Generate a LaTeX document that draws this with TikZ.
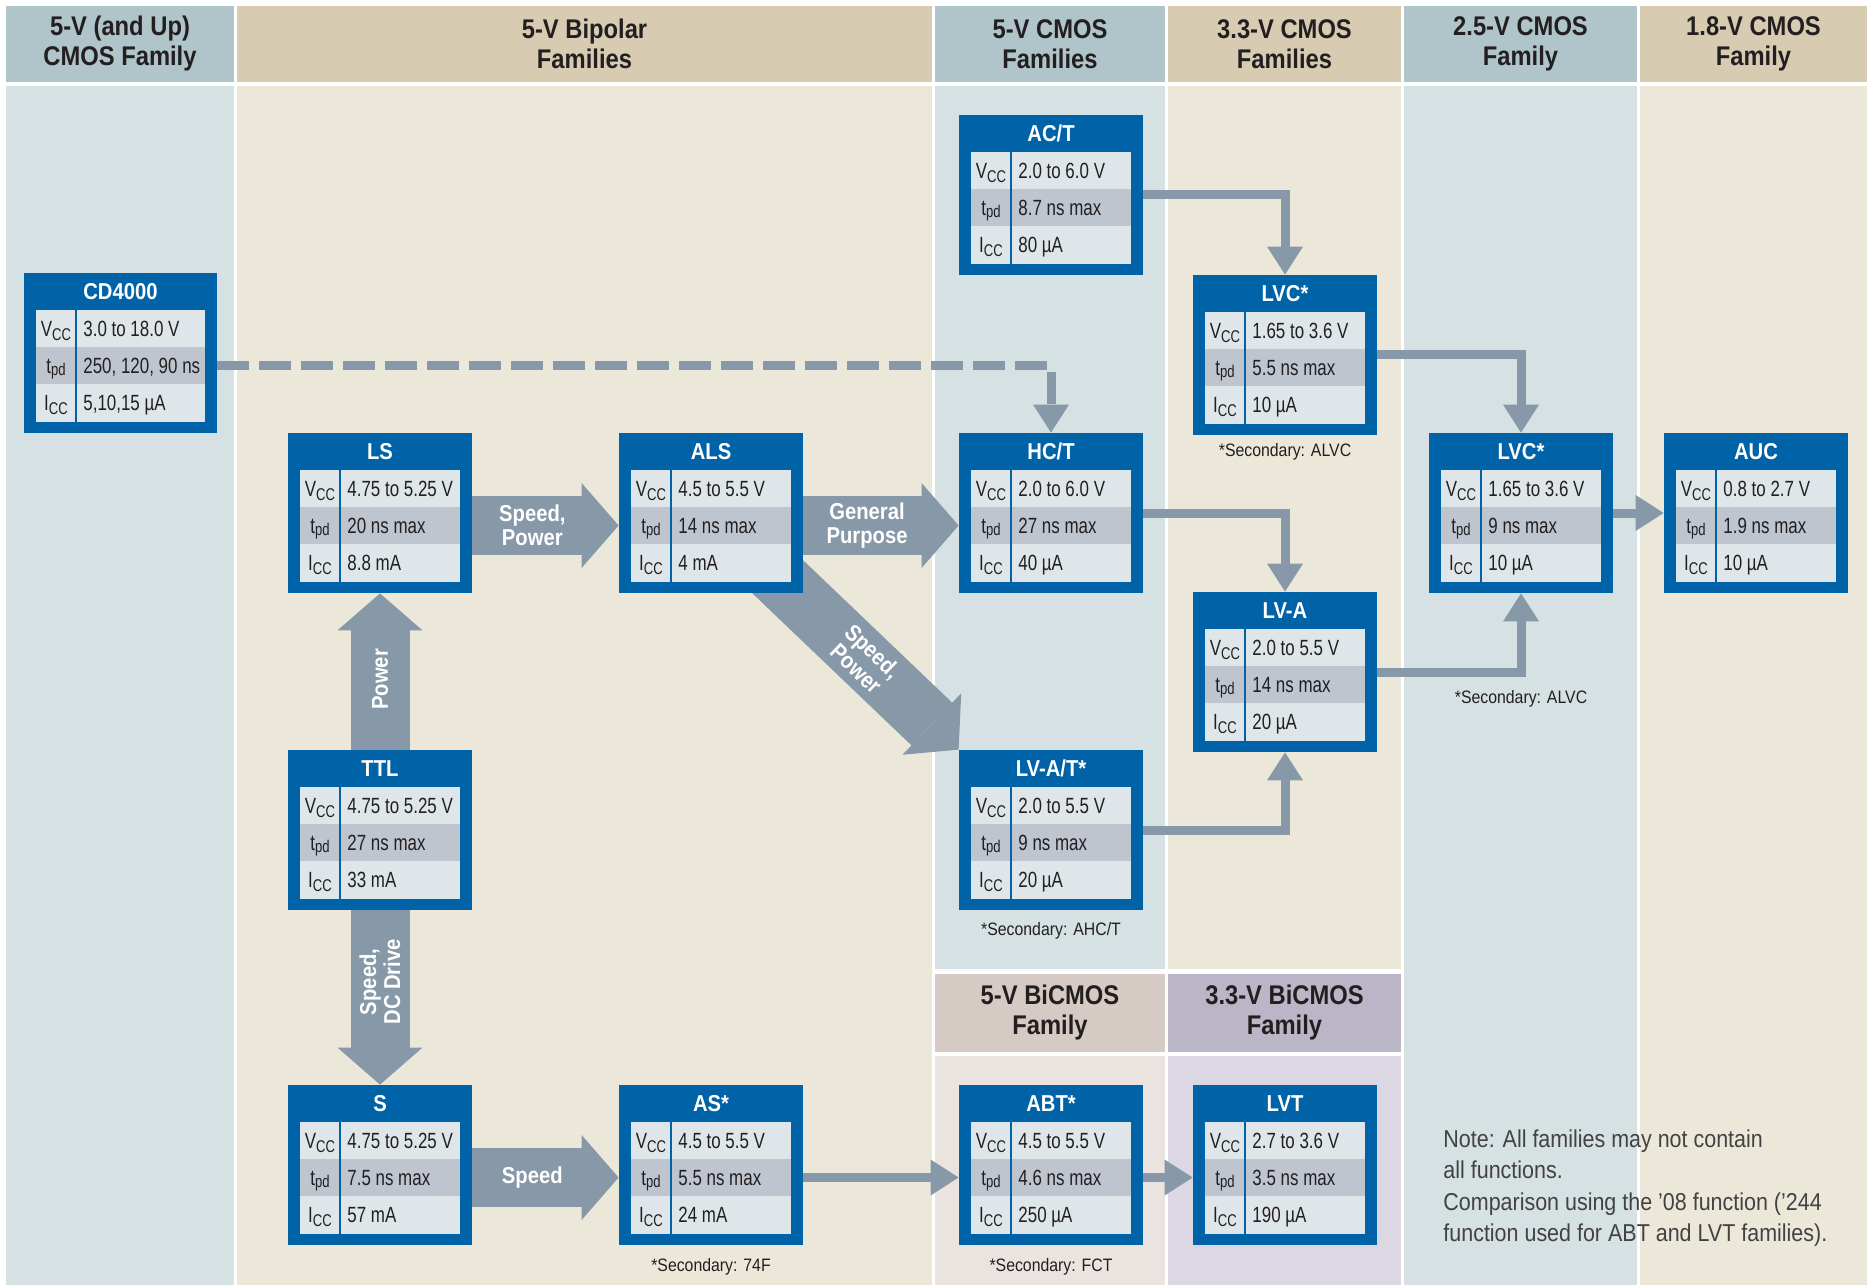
\documentclass[tikz,border=0pt]{standalone}
\usepackage{fontspec}
\setmainfont{Liberation Sans}[FakeStretch=0.88]
\newfontfamily\narrowfont{Liberation Sans}[FakeStretch=0.77]
\usetikzlibrary{arrows.meta,positioning,backgrounds}

\definecolor{hdblue}{HTML}{AFC5C9}
\definecolor{bdblue}{HTML}{D5E1E2}
\definecolor{hdtan}{HTML}{D7CCB1}
\definecolor{bdtan}{HTML}{ECE8D9}
\definecolor{hdrose}{HTML}{D6CAC5}
\definecolor{bdrose}{HTML}{EBE3DF}
\definecolor{hdlilac}{HTML}{BAB6C7}
\definecolor{bdlilac}{HTML}{DBD8E3}
\definecolor{famblue}{HTML}{0063A7}
\definecolor{rowlite}{HTML}{DFE6EA}
\definecolor{rowdark}{HTML}{BFC5CF}
\definecolor{arrowgray}{HTML}{8798A9}
\definecolor{inktext}{HTML}{231F20}

\newcommand\lowtxt[2][2pt]{\raisebox{-#1}{\fontsize{8.5}{8.5}\selectfont #2}}

% one family: [width]{name}{left}{top}{title}{Vcc}{tpd}{Icc}
\newcommand\famBox[8][184]{%
  \begin{scope}[shift={(#3,#4)}]
    \node[fambox, minimum width=#1*.5pt] (#2) at (#1/2,80) {};
    \fill[rowlite] (12,37) rectangle (#1-12,74);
    \fill[rowdark] (12,74) rectangle (#1-12,111);
    \fill[rowlite] (12,111) rectangle (#1-12,149);
    \draw[famblue, line width=.8pt] (52,37) -- (52,149);
    \node[boxtitle] (#2-n) at (#1/2,18.5) {#5};
    \node[rowlbl] (#2-vl) at (32,55.5) {V\lowtxt{CC}};
    \node[rowlbl] (#2-tl) at (32,92.5) {t\lowtxt[1pt]{pd}};
    \node[rowlbl] (#2-il) at (32,130) {I\lowtxt{CC}};
    \node[rowval] (#2-v) at (59,55.5) {#6};
    \node[rowval] (#2-t) at (59,92.5) {#7};
    \node[rowval] (#2-i) at (59,130) {#8};
  \end{scope}}

\begin{document}
\begin{tikzpicture}[x=0.5pt, y=-0.5pt,
  fambox/.style={fill=famblue, minimum height=80pt, inner sep=0pt},
  boxtitle/.style={text=white, font=\bfseries\fontsize{11.5}{12}\selectfont, inner sep=0pt},
  rowlbl/.style={text=inktext, font=\narrowfont\fontsize{11}{12}\selectfont, inner sep=0pt, text height=7.8pt, text depth=0pt},
  rowval/.style={rowlbl, anchor=west},
  hdr/.style={text=inktext, font=\bfseries\fontsize{13.5}{15}\selectfont, align=center, minimum height=38pt, inner sep=0pt},
  secnote/.style={text=inktext, font=\fontsize{9}{10}\selectfont, inner sep=0pt},
  notetxt/.style={text=inktext!85, font=\fontsize{12.2}{15.75}\selectfont, align=left, inner sep=0pt, anchor=north west},
  conn/.style={draw=arrowgray, line width=4.5pt, -{Triangle[width=18pt,length=14pt,line width=0pt]}},
  bigarrow/.style={draw=arrowgray, line width=29.5pt, -{Triangle[width=42.5pt,length=18.5pt,line width=0pt]}},
  arrowlbl/.style={text=white, font=\bfseries\fontsize{11.5}{12}\selectfont, align=center, inner sep=0pt}]
  \useasboundingbox (0,0) rectangle (1871,1288);

  \begin{pgfonlayer}{background}
    \fill[white] (0,0) rectangle (1871,1288);
    \foreach \cx/\cw/\cb/\hc/\bc/\ct [count=\i] in {
        6/228/1285/hdblue/bdblue/{5-V (and Up)\\CMOS Family},
        237/695/1285/hdtan/bdtan/{5-V Bipolar\\Families},
        935/230/969/hdblue/bdblue/{5-V CMOS\\Families},
        1168/233/969/hdtan/bdtan/{3.3-V CMOS\\Families},
        1404/233/1285/hdblue/bdblue/{2.5-V CMOS\\Family},
        1640/227/1285/hdtan/bdtan/{1.8-V CMOS\\Family}}{
      \fill[\bc] (\cx,86) rectangle (\cx+\cw,\cb);
      \node[hdr, fill=\hc, minimum width=\cw*.5pt] (hd\i) at (\cx+\cw/2,44) {\ct};
    }
    \fill[bdrose] (935,1056) rectangle (1165,1285);
    \fill[bdlilac] (1168,1056) rectangle (1401,1285);
    \node[hdr, fill=hdrose, minimum width=115pt, minimum height=39pt] (hd7) at (1050,1013) {5-V BiCMOS\\Family};
    \node[hdr, fill=hdlilac, minimum width=116.5pt, minimum height=39pt] (hd8) at (1284.5,1013) {3.3-V BiCMOS\\Family};
  \end{pgfonlayer}

  \famBox[193]{cd}{24}{273}{CD4000}{3.0 to 18.0 V}{250, 120, 90 ns}{5,10,15 µA}
  \famBox{act}{959}{115}{AC/T}{2.0 to 6.0 V}{8.7 ns max}{80 µA}
  \famBox{lvcA}{1193}{275}{LVC*}{1.65 to 3.6 V}{5.5 ns max}{10 µA}
  \famBox{ls}{288}{433}{LS}{4.75 to 5.25 V}{20 ns max}{8.8 mA}
  \famBox{als}{619}{433}{ALS}{4.5 to 5.5 V}{14 ns max}{4 mA}
  \famBox{hct}{959}{433}{HC/T}{2.0 to 6.0 V}{27 ns max}{40 µA}
  \famBox{lvcB}{1429}{433}{LVC*}{1.65 to 3.6 V}{9 ns max}{10 µA}
  \famBox{auc}{1664}{433}{AUC}{0.8 to 2.7 V}{1.9 ns max}{10 µA}
  \famBox{lva}{1193}{592}{LV-A}{2.0 to 5.5 V}{14 ns max}{20 µA}
  \famBox{ttl}{288}{750}{TTL}{4.75 to 5.25 V}{27 ns max}{33 mA}
  \famBox{lvat}{959}{750}{LV-A/T*}{2.0 to 5.5 V}{9 ns max}{20 µA}
  \famBox{s}{288}{1085}{S}{4.75 to 5.25 V}{7.5 ns max}{57 mA}
  \famBox{as}{619}{1085}{AS*}{4.5 to 5.5 V}{5.5 ns max}{24 mA}
  \famBox{abt}{959}{1085}{ABT*}{4.5 to 5.5 V}{4.6 ns max}{250 µA}
  \famBox{lvt}{1193}{1085}{LVT}{2.7 to 3.6 V}{3.5 ns max}{190 µA}

  \begin{pgfonlayer}{background}
    \draw[bigarrow] (als.center) -- (lvat.north west)
      node[arrowlbl, pos=.62, sloped] (lblF) {Speed,\\Power};
  \end{pgfonlayer}

  \draw[bigarrow] (ls.east |- ls-t) -- (als.west |- ls-t)
    node[arrowlbl, pos=.41] (lblA) {Speed,\\Power};
  \draw[bigarrow] (als.east |- als-t) -- (hct.west |- als-t)
    node[arrowlbl, pos=.41] (lblB) {General\\Purpose};
  \draw[bigarrow] (s.east |- s-t) -- (as.west |- s-t)
    node[arrowlbl, pos=.41] (lblC) {Speed};
  \draw[bigarrow] (ttl.north) -- (ls.south)
    node[arrowlbl, pos=.45, rotate=90] (lblD) {Power};
  \draw[bigarrow] (ttl.south) -- (s.north)
    node[arrowlbl, pos=.41, rotate=90] (lblE) {Speed,\\DC Drive};

  \draw[conn, dash pattern=on 16pt off 5pt] (cd.east |- cd-t) -| (hct.north);
  \draw[conn] (act.east) -| (lvcA.north);
  \draw[conn] (lvcA.east) -| (lvcB.north);
  \draw[conn] (hct.east) -| (lva.north);
  \draw[conn] (lva.east) -| (lvcB.south);
  \draw[conn] (lvat.east) -| (lva.south);
  \draw[conn] (lvcB.east) -- (auc.west);
  \draw[conn] (as.east |- as-t) -- (abt.west |- as-t);
  \draw[conn] (abt.east |- abt-t) -- (lvt.west |- abt-t);

  \node[secnote, below=4pt of lvcA] (secA) {*Secondary: ALVC};
  \node[secnote, below=48.5pt of lvcB] (secB) {*Secondary: ALVC};
  \node[secnote, below=6pt of lvat] (secC) {*Secondary: AHC/T};
  \node[secnote, below=6.5pt of as] (secD) {*Secondary: 74F};
  \node[secnote, below=6.5pt of abt] (secE) {*Secondary: FCT};

  \node[notetxt] (note) at (1443,1129) {Note: All families may not contain\\all functions.\\Comparison using the ’08 function (’244\\function used for ABT and LVT families).};
\end{tikzpicture}
\end{document}
